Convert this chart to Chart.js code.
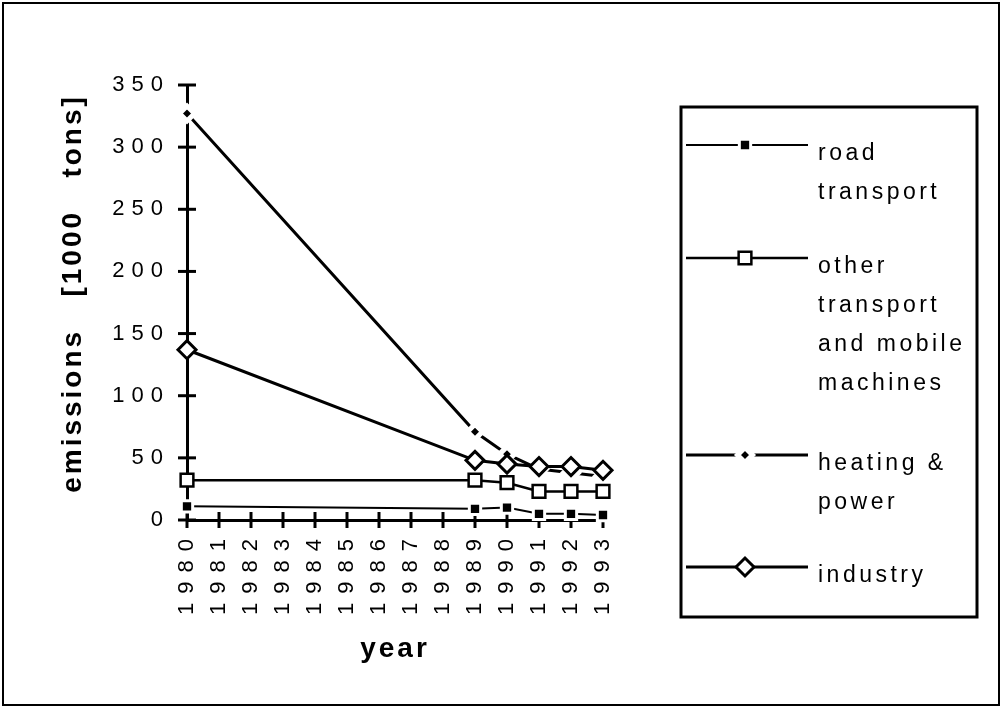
<!DOCTYPE html>
<html><head><meta charset="utf-8">
<script src="https://cdn.jsdelivr.net/npm/chart.js@4/dist/chart.umd.min.js"></script>
<style>html,body{margin:0;padding:0;background:#fff}#wrap{width:1003px;height:709px;position:relative}</style>
</head><body><div id="wrap"><canvas id="c" width="1003" height="709"></canvas></div>
<script>
const years = ['1980','1981','1982','1983','1984','1985','1986','1987','1988','1989','1990','1991','1992','1993'];
const yTickValues = [0, 50, 100, 150, 200, 250, 300, 350];
const roadTransport  = [11, null, null, null, null, null, null, null, null, 9, 10, 5, 5, 4];
const otherTransport = [32, null, null, null, null, null, null, null, null, 32, 30, 23, 23, 23];
const heatingPower   = [327, null, null, null, null, null, null, null, null, 71, 53, 41, 38, 35];
const industry       = [137, null, null, null, null, null, null, null, null, 48, 45, 43, 43, 40];
const seriesLabels = ['road transport', 'other transport and mobile machines', 'heating & power', 'industry'];
const seriesNames = [['road', 'transport'], ['other', 'transport', 'and mobile', 'machines'], ['heating &', 'power'], ['industry']];
const yTitle = 'emissions   [1000   tons]';
const xTitle = 'year';

const FONT = '"Liberation Sans", Arial, Helvetica, sans-serif';

const spacingPlugin = {
  id: 'spacing',
  beforeDraw(chart) {
    const sp = {x: {labels: '9px', title: '3px', dy: 2}, y: {labels: '7px', title: '3px', dy: -9}};
    for (const id of ['x', 'y']) {
      const s = chart.scales[id];
      if (!s || s.__wrapped) continue;
      s.__wrapped = true;
      const dl = s.drawLabels, dt = s.drawTitle;
      s.drawLabels = function (a) { const c = this.ctx; const o = c.letterSpacing; c.letterSpacing = sp[id].labels; dl.call(this, a); c.letterSpacing = o; };
      s.drawTitle = function (a) {
        const c = this.ctx; c.save(); c.letterSpacing = sp[id].title; c.translate(0, sp[id].dy);
        dt.call(this, a); c.restore();
      };
    }
  }
};

const crossTicks = {
  id: 'crossTicks',
  beforeDatasetsDraw(chart) {
    const ctx = chart.ctx, xs = chart.scales.x, ys = chart.scales.y;
    ctx.save();
    ctx.strokeStyle = '#000'; ctx.lineWidth = 3; ctx.lineCap = 'butt';
    const ax = chart.chartArea.left, ay = chart.chartArea.bottom;
    ys.ticks.forEach((t, i) => {
      const p = ys.getPixelForTick(i);
      ctx.beginPath(); ctx.moveTo(ax - 9, p); ctx.lineTo(ax + 9, p); ctx.stroke();
    });
    xs.ticks.forEach((t, i) => {
      const p = xs.getPixelForTick(i);
      ctx.beginPath(); ctx.moveTo(p, ay - 8); ctx.lineTo(p, ay + 8); ctx.stroke();
    });
    ctx.restore();
  }
};

const boxLegend = {
  id: 'boxLegend',
  afterDraw(chart) {
    const ctx = chart.ctx;
    ctx.save();
    ctx.strokeStyle = '#000';
    ctx.lineWidth = 2;
    ctx.strokeRect(3, 3, 996, 702);
    ctx.lineWidth = 3;
    ctx.strokeRect(681, 107, 296, 510);
    const rows = [145, 258, 455, 567];
    chart.data.datasets.forEach((ds, i) => {
      const y = rows[i];
      ctx.save();
      ctx.strokeStyle = ds.borderColor; ctx.lineWidth = ds.borderWidth;
      ctx.beginPath(); ctx.moveTo(686, y); ctx.lineTo(808, y); ctx.stroke();
      ctx.fillStyle = ds.pointBackgroundColor; ctx.strokeStyle = ds.pointBorderColor; ctx.lineWidth = ds.pointBorderWidth;
      Chart.helpers.drawPoint(ctx, {pointStyle: ds.pointStyle, radius: ds.pointRadius, borderWidth: ds.pointBorderWidth, rotation: 0}, 745, y);
      ctx.restore();
      ctx.save();
      ctx.font = '23px ' + FONT; ctx.letterSpacing = '3.5px';
      ctx.fillStyle = '#000'; ctx.textAlign = 'left'; ctx.textBaseline = 'alphabetic';
      seriesNames[i].forEach((t, j) => ctx.fillText(t, 818, y + 15 + j * 39));
      ctx.restore();
    });
    ctx.restore();
  }
};

const common = {borderColor: '#000', spanGaps: true, tension: 0, clip: false, fill: false};

new Chart(document.getElementById('c'), {
  type: 'line',
  data: {
    labels: years,
    datasets: [
      Object.assign({label: seriesLabels[0], data: roadTransport, borderWidth: 2, order: 2,
        pointStyle: 'rect', pointRadius: 8, pointHoverRadius: 8, pointBackgroundColor: '#000', pointBorderColor: '#fff', pointBorderWidth: 3}, common),
      Object.assign({label: seriesLabels[1], data: otherTransport, borderWidth: 2.5, order: 1,
        pointStyle: 'rect', pointRadius: 9, pointHoverRadius: 9, pointBackgroundColor: '#fff', pointBorderColor: '#000', pointBorderWidth: 2.5}, common),
      Object.assign({label: seriesLabels[2], data: heatingPower, borderWidth: 3, order: 3,
        pointStyle: 'rectRot', pointRadius: 7.5, pointHoverRadius: 7.5, pointBackgroundColor: '#000', pointBorderColor: '#fff', pointBorderWidth: 5}, common),
      Object.assign({label: seriesLabels[3], data: industry, borderWidth: 3, order: 0,
        pointStyle: 'rectRot', pointRadius: 9, pointHoverRadius: 9, pointBackgroundColor: '#fff', pointBorderColor: '#000', pointBorderWidth: 3}, common)
    ]
  },
  options: {
    responsive: false,
    animation: false,
    devicePixelRatio: 1,
    events: [],
    layout: {padding: {left: 0, top: 85, right: 400, bottom: 0}},
    plugins: {legend: {display: false}, tooltip: {enabled: false}, title: {display: false}},
    scales: {
      x: {
        type: 'category',
        offset: false,
        grid: {display: false, drawTicks: false},
        border: {display: true, color: '#000', width: 3},
        ticks: {autoSkip: false, minRotation: 90, maxRotation: 90, padding: 10, color: '#000', font: {family: FONT, size: 22}},
        title: {display: true, text: xTitle, color: '#000', font: {family: FONT, size: 28, weight: 'bold'}, padding: {top: 0, bottom: 45}},
        afterFit(s) { s.height = 189; }
      },
      y: {
        min: 0, max: 350,
        grid: {display: false, drawTicks: false},
        border: {display: true, color: '#000', width: 3},
        ticks: {color: '#000', padding: 17, font: {family: FONT, size: 22}},
        afterBuildTicks(s) { s.ticks = yTickValues.map(v => ({value: v})); },
        title: {display: true, text: yTitle, color: '#000', font: {family: FONT, size: 28, weight: 'bold'}, padding: {top: 56, bottom: 0}},
        afterFit(s) { s.width = 187; }
      }
    }
  },
  plugins: [spacingPlugin, crossTicks, boxLegend]
});
</script>
</body></html>
